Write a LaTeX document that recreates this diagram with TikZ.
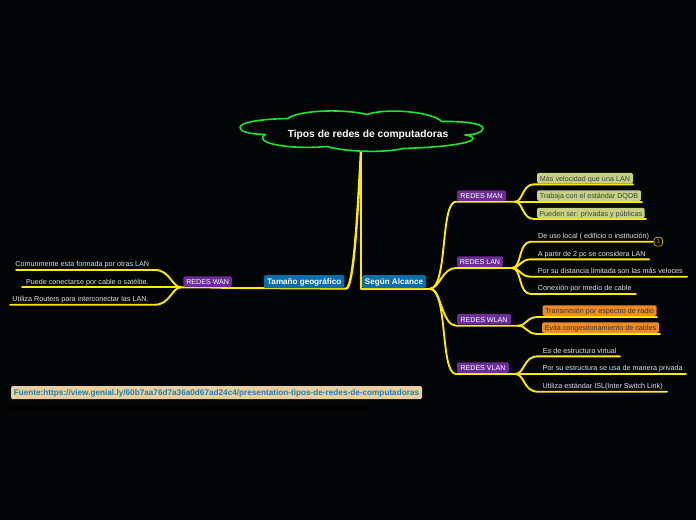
\documentclass[tikz,border=0pt]{standalone}
\usepackage{fontspec}
\setmainfont{Liberation Sans}
\definecolor{bg}{HTML}{030507}
\definecolor{yl}{HTML}{FFEA00}
\definecolor{grn}{HTML}{19E62E}
\definecolor{purp}{HTML}{6A2E94}
\definecolor{blu}{HTML}{0A6FA8}
\definecolor{lime}{HTML}{C4D284}
\definecolor{org}{HTML}{F08A24}
\definecolor{sand}{HTML}{E8D09E}
\definecolor{linkc}{HTML}{1C7FB6}
\definecolor{leaft}{HTML}{E2E2E2}
\tikzset{
  conn/.style={draw=yl,line width=1.9pt,line cap=round,line join=round},
  stem/.style={draw=yl,line width=2.4pt},
  lab/.style={inner sep=0pt,outer sep=0pt,rounded corners=1.5pt,anchor=center,text height=6pt,text depth=0pt},
  leaf/.style={text=leaft,font=\fontsize{7.2}{8}\selectfont,inner sep=0pt,anchor=center,text height=6pt,text depth=0pt},
  branch/.style={lab,fill=purp,text=white,font=\fontsize{7.1}{8}\selectfont},
  topic/.style={lab,fill=blu,text=white,font=\bfseries\fontsize{8.1}{9}\selectfont},
  gbox/.style={lab,fill=lime,text=black!75,font=\fontsize{7.2}{8}\selectfont},
  obox/.style={lab,fill=org,text=black!80,font=\fontsize{7.2}{8}\selectfont},
}
\newcommand{\bx}[8]{\node[#1,minimum width=#4pt,minimum height=#5pt] (#2) at (#6,#7) {#8};}
\begin{document}
\begin{tikzpicture}[x=1pt,y=-1pt]
\useasboundingbox (0,0) rectangle (696,520);
\fill[bg] (0,0) rectangle (696,520);
\fill[black] (11,406) rectangle (367,410);

% hubs and line ends
\coordinate (top) at (361,151);
\coordinate (jr) at (361,288.7);
\coordinate (hr) at (430,288.7);
\coordinate (jl) at (346,288.7);
\coordinate (hw) at (232,288);
\coordinate (hwl) at (181,287.3);
\coordinate (mans) at (456,201.7); \coordinate (manh) at (515,201.7);
\coordinate (lans) at (456,268); \coordinate (lanh) at (512,268);
\coordinate (wlans) at (456,325.7); \coordinate (wlanh) at (518,325.7);
\coordinate (vlans) at (456,374); \coordinate (vlanh) at (515,374);

% central stems
\draw[stem] (top) -- (jr);
\draw[stem] (top) .. controls (358,205) and (354,288.7) .. (jl);
% topic lines
\draw[conn] (jr) -- (hr);
\draw[conn] (jl) -- (hw) .. controls (222,288) and (215,287.3) .. (hwl);
% level 2 right
\draw[conn] (hr) .. controls (448,288) and (440,201.7) .. (mans) -- (manh);
\draw[conn] (hr) .. controls (440,288) and (442,268) .. (lans) -- (lanh);
\draw[conn] (hr) .. controls (441,289) and (442,325.7) .. (wlans) -- (wlanh);
\draw[conn] (hr) .. controls (448,289) and (440,374) .. (vlans) -- (vlanh);

% MAN leaves
\coordinate (m1) at (633,184.3); \coordinate (m2) at (642,201.7); \coordinate (m3) at (646,219);
\draw[conn] (manh) .. controls (523,201.7) and (522,184.3) .. (534,184.3) -- (m1);
\draw[conn] (manh) -- (m2);
\draw[conn] (manh) .. controls (523,201.7) and (522,219) .. (534,219) -- (m3);
% LAN leaves
\coordinate (l1) at (653,241.7); \coordinate (l2) at (649,259.3); \coordinate (l3) at (687,276.7); \coordinate (l4) at (636,294);
\draw[conn] (lanh) .. controls (522,268) and (518,241.7) .. (531,241.7) -- (l1);
\draw[conn] (lanh) .. controls (520,268) and (520,259.3) .. (531,259.3) -- (l2);
\draw[conn] (lanh) .. controls (520,268) and (520,276.7) .. (531,276.7) -- (l3);
\draw[conn] (lanh) .. controls (522,268) and (518,294) .. (531,294) -- (l4);
% WLAN leaves
\coordinate (w1) at (657,317); \coordinate (w2) at (660,334);
\draw[conn] (wlanh) .. controls (527,325.7) and (526,317) .. (538,317) -- (w1);
\draw[conn] (wlanh) .. controls (527,325.7) and (526,334) .. (538,334) -- (w2);
% VLAN leaves
\coordinate (v1) at (620,356.3); \coordinate (v2) at (686,374); \coordinate (v3) at (667,391.7);
\draw[conn] (vlanh) .. controls (525,374) and (523,356.3) .. (538,356.3) -- (v1);
\draw[conn] (vlanh) -- (v2);
\draw[conn] (vlanh) .. controls (525,374) and (523,391.7) .. (538,391.7) -- (v3);
% WAN leaves
\coordinate (a1) at (16,270); \coordinate (a2) at (22,287.3); \coordinate (a3) at (10,304.7);
\draw[conn] (hwl) .. controls (172,287.3) and (170,270) .. (155,270) -- (a1);
\draw[conn] (hwl) -- (a2);
\draw[conn] (hwl) .. controls (172,287.3) and (170,304.7) .. (155,304.7) -- (a3);

% cloud
\draw[grn,line width=1.6pt,fill=bg,line join=round]
 (265.5,134.5) .. controls (250,134) and (240,132) .. (240,127.5)
 .. controls (240,122) and (262,119) .. (288,118.5)
 .. controls (296,111) and (340,108) .. (367,114.5)
 .. controls (385,108) and (430,111) .. (442,121.5)
 .. controls (465,121) and (484,124) .. (483,128.5)
 .. controls (482,133) and (475,134.5) .. (465,135)
 .. controls (482,137) and (478,146) .. (403,148.5)
 .. controls (385,153) and (345,152) .. (327,146.5)
 .. controls (285,150) and (252,142) .. (265.5,134.5) -- cycle;
\node[text=white,inner sep=0pt,text height=9.2pt,text depth=0pt,font=\bfseries\fontsize{10.25}{12}\selectfont] (root) at (368,133) {Tipos de redes de computadoras};

% topics
\bx{topic}{tam}{}{80.5}{13}{304.2}{281.5}{Tamaño geográfico}
\bx{topic}{seg}{}{64}{13}{394}{281.5}{Según Alcance}
% branches
\bx{branch}{man}{}{49}{10.5}{481.5}{195.7}{REDES MAN}
\bx{branch}{lan}{}{46}{10.5}{480}{261.7}{REDES LAN}
\bx{branch}{wlan}{}{54}{10.5}{484}{319.2}{REDES WLAN}
\bx{branch}{vlan}{}{52}{10.5}{483}{367.7}{REDES VLAN}
\bx{branch}{wan}{}{48.5}{10.5}{207.7}{281.5}{REDES WAN}
% MAN leaves
\bx{gbox}{tm1}{}{96}{10.5}{585}{178.2}{Más velocidad que una LAN}
\bx{gbox}{tm2}{}{104}{10.5}{589}{195.5}{Trabaja con el estándar DQDB}
\bx{gbox}{tm3}{}{107.5}{10.5}{590.8}{213}{Pueden ser: privadas y públicas}
% LAN leaves
\node[leaf] (tl1) at (593.5,235.7) {De uso local ( edificio o institución)};
\node[leaf] (tl2) at (591.7,253) {A partir de 2 pc se considera LAN};
\node[leaf] (tl3) at (610.3,270.5) {Por su distancia limitada son las más veloces};
\node[leaf] (tl4) at (584.7,287.7) {Conexión por medio de cable};
\node[draw=yl!70!black,line width=.8pt,rounded corners=2.5pt,minimum width=8.5pt,minimum height=8.5pt,inner sep=0pt,text=yl!70!black,font=\fontsize{6}{6}\selectfont] (note) at (658.3,241.7) {1};
% WLAN leaves
\bx{obox}{tw1}{}{114}{10.5}{599.5}{310.5}{Transmisión por espectro de radio}
\bx{obox}{tw2}{}{117}{10.5}{600.5}{327.5}{Evita congestionamiento de cables}
% VLAN leaves
\node[leaf] (tv1) at (579.7,350.5) {Es de estructura virtual};
\node[leaf] (tv2) at (612.7,367.7) {Por su estructura se usa de manera privada};
\node[leaf] (tv3) at (602.7,385.5) {Utiliza estándar ISL(Inter Switch Link)};
% WAN leaves
\node[leaf] (ta1) at (82.3,263.7) {Comunmente esta formada por otras LAN};
\node[leaf] (ta2) at (87.3,281.5) {Puede conectarse por cable o satélite.};
\node[leaf] (ta3) at (80.5,298.5) {Utiliza Routers para interconectar las LAN.};
% source
\node[lab,fill=sand,text=linkc,font=\bfseries\fontsize{8.2}{9}\selectfont,minimum width=411pt,minimum height=13pt] (src) at (216.5,392.5) {Fuente:https://view.genial.ly/60b7aa76d7a36a0d67ad24c4/presentation-tipos-de-redes-de-computadoras};
\end{tikzpicture}
\end{document}
